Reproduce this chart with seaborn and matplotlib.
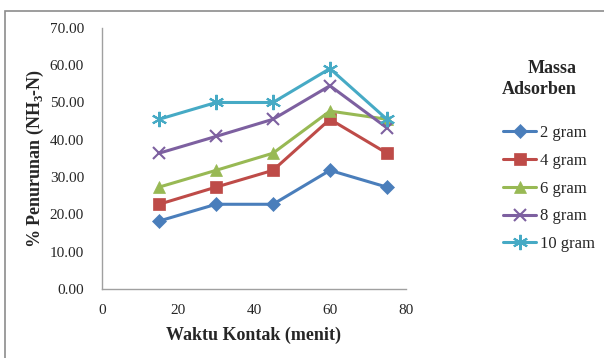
import numpy as np
import pandas as pd
import seaborn as sns
import matplotlib.pyplot as plt
from matplotlib.patches import Rectangle

sns.set_style('white')
plt.rcParams['font.family'] = ['Liberation Serif', 'DejaVu Serif']
plt.rcParams['mathtext.fontset'] = 'custom'
plt.rcParams['mathtext.rm'] = 'Liberation Serif'
plt.rcParams['mathtext.bf'] = 'Liberation Serif:bold'

waktu = [15, 30, 45, 60, 75]
g2 = [18.2, 22.7, 22.7, 31.8, 27.3]
g4 = [22.7, 27.3, 31.8, 45.5, 36.4]
g6 = [27.3, 31.8, 36.4, 47.7, 45.5]
g8 = [36.4, 40.9, 45.5, 54.5, 43.2]
g10 = [45.5, 50.0, 50.0, 59.1, 45.5]
labels = ['2 gram', '4 gram', '6 gram', '8 gram', '10 gram']

colors = ['#4A7EBB', '#BE4B48', '#98B954', '#7D60A0', '#46AAC5']
markers = ['D', 's', '^', 'x', (6, 2, 0)]
sizes = [7, 9, 9, 9, 11]

rows = []
for lab, vals in zip(labels, [g2, g4, g6, g8, g10]):
    for t, v in zip(waktu, vals):
        rows.append({'waktu': t, 'nilai': v, 'massa': lab})
df = pd.DataFrame(rows)

fig = plt.figure(figsize=(6.04, 3.58), dpi=100)
ax = fig.add_axes([0.169, 0.193, 0.503, 0.729])

for lab, c, m, s in zip(labels, colors, markers, sizes):
    sub = df[df['massa'] == lab]
    sns.lineplot(data=sub, x='waktu', y='nilai', ax=ax, color=c, marker=m,
                 markersize=s, linewidth=2.2, markeredgewidth=1.5 if m in ('x', (6, 2, 0)) else 0.5,
                 markeredgecolor=c, label=lab)

ax.set_xlim(0, 80)
ax.set_ylim(0, 70)
ax.set_xticks([0, 20, 40, 60, 80])
ax.set_yticks(np.arange(0, 71, 10))
ax.set_yticklabels(['%.2f' % v for v in np.arange(0, 71, 10)])
ax.tick_params(axis='both', labelsize=11, length=0)
ax.tick_params(axis='x', pad=11)
ax.tick_params(axis='y', pad=13)
for sp in ['top', 'right']:
    ax.spines[sp].set_visible(False)
for sp in ['left', 'bottom']:
    ax.spines[sp].set_color('#A0A0A0')
    ax.spines[sp].set_linewidth(1)

ax.set_xlabel('Waktu Kontak (menit)', fontsize=13, fontweight='bold', labelpad=7)
ax.set_ylabel(r'% Penurunan (NH$_\mathbf{3}$-N)', fontsize=13, fontweight='bold', labelpad=3)

ax.legend(loc='upper left', bbox_to_anchor=(0.833, 0.651), bbox_transform=fig.transFigure,
          frameon=False, fontsize=12, handlelength=2.0, handletextpad=0.2,
          labelspacing=0.71, borderpad=0, borderaxespad=0)

fig.text(0.955, 0.78, 'Massa\nAdsorben', fontsize=13, fontweight='bold', ha='right', va='center',
         multialignment='right', linespacing=1.3)

fig.patches.append(Rectangle((0.008, -0.01), 1.0, 0.98, transform=fig.transFigure,
                             fill=False, edgecolor='#8C8C8C', linewidth=1.2))

fig.savefig('out.png', dpi=100)
